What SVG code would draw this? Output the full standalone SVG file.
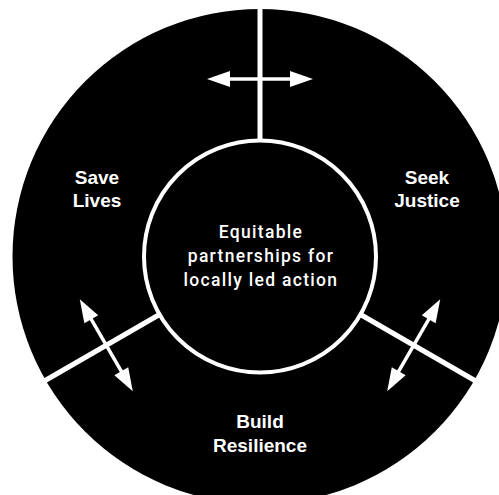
<svg xmlns="http://www.w3.org/2000/svg" width="499" height="495" viewBox="0 0 499 495">
<style>
.lbl{font-family:"Liberation Sans",Arial,sans-serif;font-weight:bold;font-size:19px;fill:#fff;text-anchor:middle}
.ctr{font-family:Roboto,"Liberation Sans",Arial,sans-serif;font-weight:500;font-size:17.5px;letter-spacing:1.3px;fill:#fff;text-anchor:middle}
.div{stroke:#fff;stroke-width:5;fill:none}
.shaft{stroke:#fff;stroke-width:3.5;fill:none}
.head{fill:#fff}
</style>
<defs>
<g id="dbl">
<line class="shaft" x1="222" y1="79" x2="298" y2="79"/>
<polygon class="head" points="207,79 230,71 230,87"/>
<polygon class="head" points="313,79 290,71 290,87"/>
</g>
</defs>
<g id="outer"><circle cx="260" cy="256.5" r="247.5" fill="#000"/></g>
<g id="connectors">
<line class="div" x1="260" y1="0" x2="260" y2="140.5"/>
<line class="div" x1="260" y1="0" x2="260" y2="140.5" transform="rotate(120 260 256.5)"/>
<line class="div" x1="260" y1="0" x2="260" y2="140.5" transform="rotate(240 260 256.5)"/>
<use href="#dbl"/>
<use href="#dbl" transform="rotate(120 260 256.5)"/>
<use href="#dbl" transform="rotate(240 260 256.5)"/>
</g>
<g id="center">
<circle cx="260" cy="256.5" r="116" fill="#000" stroke="#fff" stroke-width="4"/>
<text class="ctr" x="261" y="238">Equitable</text>
<text class="ctr" x="261" y="262">partnerships for</text>
<text class="ctr" x="261" y="286">locally led action</text>
</g>
<g id="save-lives">
<text class="lbl" x="97" y="184">Save</text>
<text class="lbl" x="97" y="207">Lives</text>
</g>
<g id="seek-justice">
<text class="lbl" x="427" y="184">Seek</text>
<text class="lbl" x="427" y="207">Justice</text>
</g>
<g id="build-resilience">
<text class="lbl" x="260" y="428">Build</text>
<text class="lbl" x="260" y="452">Resilience</text>
</g>
</svg>
